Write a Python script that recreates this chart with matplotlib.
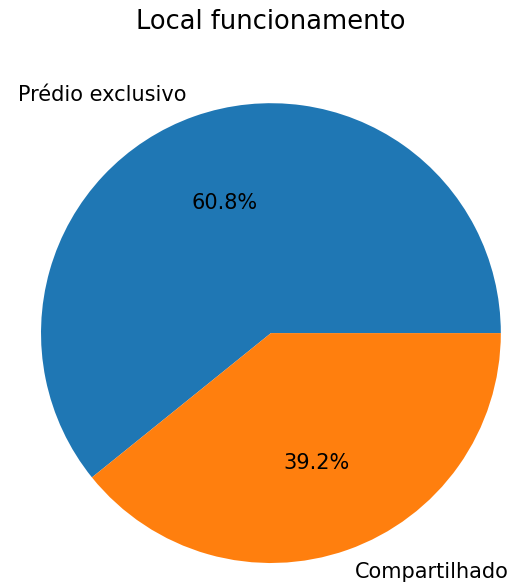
import matplotlib.pyplot as plt

labels = ['Prédio exclusivo', 'Compartilhado']
values = [60.8, 39.2]

fig = plt.figure(figsize=(5.19, 5.85), dpi=100)
ax = fig.add_axes([0.079, 0.0376, 0.886, 0.786])
ax.pie(values, labels=labels, autopct='%1.1f%%',
       colors=['#1f77b4', '#ff7f0e'],
       textprops={'fontsize': 15})
ax.set_xlim(-1, 1)
ax.set_ylim(-1, 1)
ax.set_aspect('equal')
fig.text(0.522, 1 - 22 / 585, 'Local funcionamento', ha='center', va='center', fontsize=18.5)

fig.savefig('out.png', dpi=100)
